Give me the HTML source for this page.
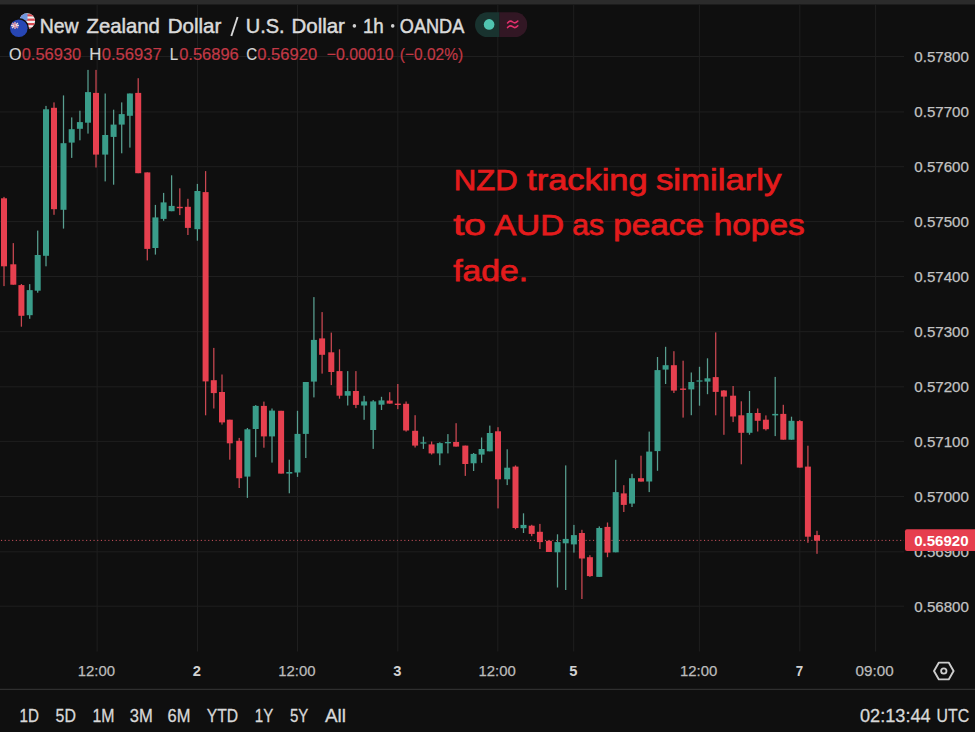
<!DOCTYPE html>
<html><head><meta charset="utf-8">
<style>html,body{margin:0;padding:0;background:#0f0f0f;overflow:hidden}svg{display:block;font-family:"Liberation Sans",sans-serif}text{white-space:pre}</style></head><body>
<svg width="975" height="732" viewBox="0 0 975 732">
<rect x="0" y="0" width="975" height="732" fill="#0f0f0f"/>
<rect x="0" y="0" width="975" height="4.5" fill="#2b2b2b"/>
<g stroke="#1f1f1f" stroke-width="1">
<line x1="0" y1="56.5" x2="904" y2="56.5"/>
<line x1="0" y1="111.9" x2="904" y2="111.9"/>
<line x1="0" y1="166.7" x2="904" y2="166.7"/>
<line x1="0" y1="221.6" x2="904" y2="221.6"/>
<line x1="0" y1="276.5" x2="904" y2="276.5"/>
<line x1="0" y1="331.7" x2="904" y2="331.7"/>
<line x1="0" y1="386.8" x2="904" y2="386.8"/>
<line x1="0" y1="441.4" x2="904" y2="441.4"/>
<line x1="0" y1="496.5" x2="904" y2="496.5"/>
<line x1="0" y1="551.8" x2="904" y2="551.8"/>
<line x1="0" y1="606.2" x2="904" y2="606.2"/>
<line x1="97.1" y1="4.5" x2="97.1" y2="651.5"/>
<line x1="197.5" y1="4.5" x2="197.5" y2="651.5"/>
<line x1="297.5" y1="4.5" x2="297.5" y2="651.5"/>
<line x1="397.8" y1="4.5" x2="397.8" y2="651.5"/>
<line x1="497.8" y1="4.5" x2="497.8" y2="651.5"/>
<line x1="573.7" y1="4.5" x2="573.7" y2="651.5"/>
<line x1="699.4" y1="4.5" x2="699.4" y2="651.5"/>
<line x1="799.8" y1="4.5" x2="799.8" y2="651.5"/>
<line x1="875.6" y1="4.5" x2="875.6" y2="651.5"/>
</g>
<line x1="0" y1="689.3" x2="975" y2="689.3" stroke="#2f2f2f" stroke-width="1.3"/>
<line x1="1" y1="540.4" x2="904" y2="540.4" stroke="#d25560" stroke-width="1" stroke-dasharray="1.1 2.6"/>
<rect x="3.38" y="196.9" width="1.25" height="89.2" fill="#cb4852"/>
<rect x="1.00" y="198.3" width="6.0" height="68.0" fill="#e6404f"/>
<rect x="12.68" y="243.1" width="1.25" height="41.6" fill="#cb4852"/>
<rect x="10.30" y="264.3" width="6.0" height="20.4" fill="#e6404f"/>
<rect x="20.78" y="284.0" width="1.25" height="42.7" fill="#cb4852"/>
<rect x="18.40" y="285.1" width="6.0" height="30.7" fill="#e6404f"/>
<rect x="29.08" y="284.1" width="1.25" height="34.7" fill="#589f90"/>
<rect x="26.70" y="290.1" width="6.0" height="25.1" fill="#3a9d8a"/>
<rect x="37.08" y="230.6" width="1.25" height="62.1" fill="#589f90"/>
<rect x="34.70" y="255.0" width="6.0" height="35.7" fill="#3a9d8a"/>
<rect x="45.38" y="105.9" width="1.25" height="160.4" fill="#589f90"/>
<rect x="43.00" y="109.3" width="6.0" height="146.5" fill="#3a9d8a"/>
<rect x="53.38" y="102.4" width="1.25" height="112.4" fill="#cb4852"/>
<rect x="51.00" y="107.8" width="6.0" height="101.4" fill="#e6404f"/>
<rect x="62.88" y="95.4" width="1.25" height="133.2" fill="#589f90"/>
<rect x="60.50" y="143.2" width="6.0" height="66.6" fill="#3a9d8a"/>
<rect x="71.08" y="117.4" width="1.25" height="40.5" fill="#589f90"/>
<rect x="68.70" y="129.2" width="6.0" height="13.4" fill="#3a9d8a"/>
<rect x="79.28" y="110.7" width="1.25" height="29.6" fill="#589f90"/>
<rect x="76.90" y="122.1" width="6.0" height="6.7" fill="#3a9d8a"/>
<rect x="87.38" y="69.9" width="1.25" height="63.7" fill="#589f90"/>
<rect x="85.00" y="92.1" width="6.0" height="30.6" fill="#3a9d8a"/>
<rect x="95.38" y="69.9" width="1.25" height="97.6" fill="#cb4852"/>
<rect x="93.00" y="92.9" width="6.0" height="61.7" fill="#e6404f"/>
<rect x="104.58" y="93.5" width="1.25" height="87.9" fill="#589f90"/>
<rect x="102.20" y="135.0" width="6.0" height="19.6" fill="#3a9d8a"/>
<rect x="112.98" y="109.7" width="1.25" height="75.0" fill="#589f90"/>
<rect x="110.60" y="124.6" width="6.0" height="12.3" fill="#3a9d8a"/>
<rect x="121.08" y="102.4" width="1.25" height="50.9" fill="#589f90"/>
<rect x="118.70" y="114.1" width="6.0" height="10.5" fill="#3a9d8a"/>
<rect x="129.28" y="93.5" width="1.25" height="54.1" fill="#589f90"/>
<rect x="126.90" y="93.5" width="6.0" height="22.3" fill="#3a9d8a"/>
<rect x="137.58" y="78.2" width="1.25" height="95.0" fill="#cb4852"/>
<rect x="135.20" y="92.9" width="6.0" height="80.3" fill="#e6404f"/>
<rect x="146.68" y="172.4" width="1.25" height="88.0" fill="#cb4852"/>
<rect x="144.30" y="172.4" width="6.0" height="76.5" fill="#e6404f"/>
<rect x="154.78" y="204.9" width="1.25" height="49.7" fill="#589f90"/>
<rect x="152.40" y="217.4" width="6.0" height="30.6" fill="#3a9d8a"/>
<rect x="162.98" y="192.9" width="1.25" height="27.9" fill="#589f90"/>
<rect x="160.60" y="202.4" width="6.0" height="16.5" fill="#3a9d8a"/>
<rect x="170.98" y="175.3" width="1.25" height="35.9" fill="#589f90"/>
<rect x="168.60" y="205.9" width="6.0" height="5.3" fill="#3a9d8a"/>
<rect x="179.18" y="188.3" width="1.25" height="26.8" fill="#cb4852"/>
<rect x="176.80" y="206.8" width="6.0" height="1.4" fill="#e6404f"/>
<rect x="187.28" y="198.8" width="1.25" height="36.2" fill="#cb4852"/>
<rect x="184.90" y="206.8" width="6.0" height="21.1" fill="#e6404f"/>
<rect x="196.78" y="183.9" width="1.25" height="56.8" fill="#589f90"/>
<rect x="194.40" y="191.0" width="6.0" height="38.2" fill="#3a9d8a"/>
<rect x="204.98" y="171.1" width="1.25" height="244.2" fill="#cb4852"/>
<rect x="202.60" y="192.1" width="6.0" height="189.3" fill="#e6404f"/>
<rect x="213.18" y="347.9" width="1.25" height="60.6" fill="#cb4852"/>
<rect x="210.80" y="380.2" width="6.0" height="12.9" fill="#e6404f"/>
<rect x="221.38" y="374.5" width="1.25" height="50.1" fill="#cb4852"/>
<rect x="219.00" y="392.0" width="6.0" height="30.4" fill="#e6404f"/>
<rect x="229.18" y="419.7" width="1.25" height="40.0" fill="#cb4852"/>
<rect x="226.80" y="419.7" width="6.0" height="23.6" fill="#e6404f"/>
<rect x="238.58" y="437.9" width="1.25" height="50.1" fill="#cb4852"/>
<rect x="236.20" y="440.8" width="6.0" height="37.4" fill="#e6404f"/>
<rect x="246.78" y="428.0" width="1.25" height="69.9" fill="#589f90"/>
<rect x="244.40" y="429.3" width="6.0" height="47.3" fill="#3a9d8a"/>
<rect x="255.08" y="405.1" width="1.25" height="52.1" fill="#589f90"/>
<rect x="252.70" y="405.9" width="6.0" height="23.1" fill="#3a9d8a"/>
<rect x="263.28" y="401.6" width="1.25" height="46.1" fill="#cb4852"/>
<rect x="260.90" y="405.9" width="6.0" height="30.5" fill="#e6404f"/>
<rect x="271.38" y="408.5" width="1.25" height="54.1" fill="#589f90"/>
<rect x="269.00" y="410.6" width="6.0" height="25.8" fill="#3a9d8a"/>
<rect x="280.48" y="410.8" width="1.25" height="62.8" fill="#cb4852"/>
<rect x="278.10" y="410.8" width="6.0" height="62.8" fill="#e6404f"/>
<rect x="288.68" y="459.7" width="1.25" height="33.6" fill="#589f90"/>
<rect x="286.30" y="472.0" width="6.0" height="1.6" fill="#3a9d8a"/>
<rect x="296.88" y="410.8" width="1.25" height="66.1" fill="#589f90"/>
<rect x="294.50" y="433.9" width="6.0" height="38.6" fill="#3a9d8a"/>
<rect x="305.18" y="382.0" width="1.25" height="76.0" fill="#589f90"/>
<rect x="302.80" y="382.0" width="6.0" height="51.9" fill="#3a9d8a"/>
<rect x="313.28" y="297.1" width="1.25" height="100.3" fill="#589f90"/>
<rect x="310.90" y="339.9" width="6.0" height="41.7" fill="#3a9d8a"/>
<rect x="321.48" y="312.1" width="1.25" height="61.5" fill="#cb4852"/>
<rect x="319.10" y="338.4" width="6.0" height="16.4" fill="#e6404f"/>
<rect x="330.68" y="332.6" width="1.25" height="52.5" fill="#cb4852"/>
<rect x="328.30" y="352.3" width="6.0" height="19.7" fill="#e6404f"/>
<rect x="338.88" y="349.3" width="1.25" height="49.4" fill="#cb4852"/>
<rect x="336.50" y="371.1" width="6.0" height="24.6" fill="#e6404f"/>
<rect x="347.08" y="371.1" width="1.25" height="34.4" fill="#589f90"/>
<rect x="344.70" y="391.1" width="6.0" height="4.6" fill="#3a9d8a"/>
<rect x="355.28" y="371.1" width="1.25" height="37.0" fill="#cb4852"/>
<rect x="352.90" y="391.0" width="6.0" height="13.9" fill="#e6404f"/>
<rect x="363.48" y="395.8" width="1.25" height="24.0" fill="#589f90"/>
<rect x="361.10" y="401.4" width="6.0" height="4.1" fill="#3a9d8a"/>
<rect x="372.58" y="400.1" width="1.25" height="48.8" fill="#589f90"/>
<rect x="370.20" y="401.4" width="6.0" height="28.6" fill="#3a9d8a"/>
<rect x="380.88" y="396.8" width="1.25" height="13.2" fill="#589f90"/>
<rect x="378.50" y="400.4" width="6.0" height="4.3" fill="#3a9d8a"/>
<rect x="389.08" y="392.2" width="1.25" height="11.4" fill="#cb4852"/>
<rect x="386.70" y="400.6" width="6.0" height="3.0" fill="#e6404f"/>
<rect x="397.18" y="384.0" width="1.25" height="25.2" fill="#cb4852"/>
<rect x="394.80" y="403.6" width="6.0" height="1.4" fill="#e6404f"/>
<rect x="405.48" y="401.5" width="1.25" height="30.1" fill="#cb4852"/>
<rect x="403.10" y="403.8" width="6.0" height="26.7" fill="#e6404f"/>
<rect x="414.48" y="415.2" width="1.25" height="32.3" fill="#cb4852"/>
<rect x="412.10" y="430.8" width="6.0" height="14.8" fill="#e6404f"/>
<rect x="422.78" y="436.6" width="1.25" height="12.3" fill="#589f90"/>
<rect x="420.40" y="442.3" width="6.0" height="1.3" fill="#3a9d8a"/>
<rect x="430.98" y="441.5" width="1.25" height="13.1" fill="#cb4852"/>
<rect x="428.60" y="444.4" width="6.0" height="9.0" fill="#e6404f"/>
<rect x="439.18" y="442.3" width="1.25" height="22.9" fill="#589f90"/>
<rect x="436.80" y="443.1" width="6.0" height="10.3" fill="#3a9d8a"/>
<rect x="447.28" y="434.1" width="1.25" height="19.3" fill="#589f90"/>
<rect x="444.90" y="442.0" width="6.0" height="1.3" fill="#3a9d8a"/>
<rect x="455.48" y="423.2" width="1.25" height="23.4" fill="#cb4852"/>
<rect x="453.10" y="442.0" width="6.0" height="4.6" fill="#e6404f"/>
<rect x="464.68" y="445.6" width="1.25" height="30.3" fill="#cb4852"/>
<rect x="462.30" y="445.6" width="6.0" height="18.4" fill="#e6404f"/>
<rect x="472.98" y="453.0" width="1.25" height="18.0" fill="#589f90"/>
<rect x="470.60" y="453.9" width="6.0" height="9.4" fill="#3a9d8a"/>
<rect x="480.98" y="437.5" width="1.25" height="25.3" fill="#589f90"/>
<rect x="478.60" y="449.0" width="6.0" height="5.6" fill="#3a9d8a"/>
<rect x="489.18" y="425.6" width="1.25" height="25.7" fill="#589f90"/>
<rect x="486.80" y="433.0" width="6.0" height="18.3" fill="#3a9d8a"/>
<rect x="497.38" y="427.2" width="1.25" height="81.2" fill="#cb4852"/>
<rect x="495.00" y="431.3" width="6.0" height="48.0" fill="#e6404f"/>
<rect x="506.58" y="449.3" width="1.25" height="35.8" fill="#589f90"/>
<rect x="504.20" y="467.7" width="6.0" height="11.6" fill="#3a9d8a"/>
<rect x="514.88" y="465.4" width="1.25" height="63.9" fill="#cb4852"/>
<rect x="512.50" y="466.6" width="6.0" height="61.4" fill="#e6404f"/>
<rect x="522.88" y="513.3" width="1.25" height="19.7" fill="#589f90"/>
<rect x="520.50" y="524.9" width="6.0" height="3.3" fill="#3a9d8a"/>
<rect x="531.08" y="524.8" width="1.25" height="11.4" fill="#cb4852"/>
<rect x="528.70" y="525.7" width="6.0" height="8.2" fill="#e6404f"/>
<rect x="539.28" y="523.9" width="1.25" height="25.1" fill="#cb4852"/>
<rect x="536.90" y="531.8" width="6.0" height="10.3" fill="#e6404f"/>
<rect x="548.28" y="540.0" width="1.25" height="12.0" fill="#cb4852"/>
<rect x="545.90" y="540.8" width="6.0" height="11.2" fill="#e6404f"/>
<rect x="556.88" y="534.3" width="1.25" height="53.2" fill="#589f90"/>
<rect x="554.50" y="542.1" width="6.0" height="10.2" fill="#3a9d8a"/>
<rect x="565.08" y="465.4" width="1.25" height="124.6" fill="#589f90"/>
<rect x="562.70" y="538.9" width="6.0" height="4.4" fill="#3a9d8a"/>
<rect x="573.28" y="524.9" width="1.25" height="27.7" fill="#589f90"/>
<rect x="570.90" y="535.1" width="6.0" height="9.3" fill="#3a9d8a"/>
<rect x="581.28" y="529.8" width="1.25" height="69.2" fill="#cb4852"/>
<rect x="578.90" y="533.0" width="6.0" height="25.5" fill="#e6404f"/>
<rect x="589.28" y="555.2" width="1.25" height="21.7" fill="#cb4852"/>
<rect x="586.90" y="557.2" width="6.0" height="18.9" fill="#e6404f"/>
<rect x="598.68" y="526.4" width="1.25" height="50.5" fill="#589f90"/>
<rect x="596.30" y="528.0" width="6.0" height="48.9" fill="#3a9d8a"/>
<rect x="606.88" y="522.5" width="1.25" height="34.7" fill="#cb4852"/>
<rect x="604.50" y="526.9" width="6.0" height="25.7" fill="#e6404f"/>
<rect x="615.08" y="459.8" width="1.25" height="92.5" fill="#589f90"/>
<rect x="612.70" y="492.1" width="6.0" height="60.2" fill="#3a9d8a"/>
<rect x="623.18" y="485.2" width="1.25" height="26.8" fill="#cb4852"/>
<rect x="620.80" y="493.4" width="6.0" height="11.5" fill="#e6404f"/>
<rect x="631.38" y="473.8" width="1.25" height="33.2" fill="#589f90"/>
<rect x="629.00" y="478.2" width="6.0" height="25.4" fill="#3a9d8a"/>
<rect x="640.38" y="455.7" width="1.25" height="25.9" fill="#cb4852"/>
<rect x="638.00" y="478.2" width="6.0" height="3.4" fill="#e6404f"/>
<rect x="648.58" y="431.6" width="1.25" height="60.5" fill="#589f90"/>
<rect x="646.20" y="451.6" width="6.0" height="29.9" fill="#3a9d8a"/>
<rect x="656.88" y="357.0" width="1.25" height="113.8" fill="#589f90"/>
<rect x="654.50" y="370.1" width="6.0" height="81.0" fill="#3a9d8a"/>
<rect x="664.98" y="346.8" width="1.25" height="37.2" fill="#589f90"/>
<rect x="662.60" y="365.2" width="6.0" height="4.4" fill="#3a9d8a"/>
<rect x="673.28" y="351.2" width="1.25" height="41.8" fill="#cb4852"/>
<rect x="670.90" y="365.2" width="6.0" height="25.4" fill="#e6404f"/>
<rect x="682.48" y="360.7" width="1.25" height="56.9" fill="#cb4852"/>
<rect x="680.10" y="388.5" width="6.0" height="1.4" fill="#e6404f"/>
<rect x="690.68" y="372.5" width="1.25" height="42.7" fill="#589f90"/>
<rect x="688.30" y="382.0" width="6.0" height="7.4" fill="#3a9d8a"/>
<rect x="698.88" y="366.8" width="1.25" height="38.9" fill="#589f90"/>
<rect x="696.50" y="380.4" width="6.0" height="1.2" fill="#3a9d8a"/>
<rect x="706.88" y="358.3" width="1.25" height="35.9" fill="#589f90"/>
<rect x="704.50" y="378.3" width="6.0" height="3.3" fill="#3a9d8a"/>
<rect x="715.08" y="332.4" width="1.25" height="82.9" fill="#cb4852"/>
<rect x="712.70" y="377.1" width="6.0" height="14.8" fill="#e6404f"/>
<rect x="723.28" y="390.0" width="1.25" height="44.8" fill="#cb4852"/>
<rect x="720.90" y="390.5" width="6.0" height="6.1" fill="#e6404f"/>
<rect x="732.48" y="386.0" width="1.25" height="36.1" fill="#cb4852"/>
<rect x="730.10" y="395.7" width="6.0" height="20.8" fill="#e6404f"/>
<rect x="740.68" y="401.3" width="1.25" height="63.0" fill="#cb4852"/>
<rect x="738.30" y="415.3" width="6.0" height="17.5" fill="#e6404f"/>
<rect x="748.88" y="391.0" width="1.25" height="43.7" fill="#589f90"/>
<rect x="746.50" y="413.0" width="6.0" height="19.8" fill="#3a9d8a"/>
<rect x="757.08" y="408.5" width="1.25" height="23.0" fill="#cb4852"/>
<rect x="754.70" y="413.0" width="6.0" height="7.8" fill="#e6404f"/>
<rect x="765.28" y="415.4" width="1.25" height="15.1" fill="#cb4852"/>
<rect x="762.90" y="419.7" width="6.0" height="9.5" fill="#e6404f"/>
<rect x="774.58" y="376.9" width="1.25" height="59.2" fill="#589f90"/>
<rect x="772.20" y="413.9" width="6.0" height="1.5" fill="#3a9d8a"/>
<rect x="782.68" y="404.8" width="1.25" height="34.9" fill="#cb4852"/>
<rect x="780.30" y="413.9" width="6.0" height="25.8" fill="#e6404f"/>
<rect x="790.88" y="416.7" width="1.25" height="23.0" fill="#589f90"/>
<rect x="788.50" y="420.8" width="6.0" height="18.9" fill="#3a9d8a"/>
<rect x="799.18" y="420.0" width="1.25" height="47.6" fill="#cb4852"/>
<rect x="796.80" y="421.1" width="6.0" height="46.5" fill="#e6404f"/>
<rect x="807.28" y="445.7" width="1.25" height="97.1" fill="#cb4852"/>
<rect x="804.90" y="466.6" width="6.0" height="70.1" fill="#e6404f"/>
<rect x="816.38" y="530.8" width="1.25" height="23.0" fill="#cb4852"/>
<rect x="814.00" y="535.1" width="6.0" height="5.6" fill="#e6404f"/>
<text x="914.3" y="61.6" font-size="15" fill="#c2c2c2" font-weight="normal" textLength="54.6" lengthAdjust="spacingAndGlyphs" stroke="#c2c2c2" stroke-width="0.25">0.57800</text>
<text x="914.3" y="116.7" font-size="15" fill="#c2c2c2" font-weight="normal" textLength="54.6" lengthAdjust="spacingAndGlyphs" stroke="#c2c2c2" stroke-width="0.25">0.57700</text>
<text x="914.3" y="171.7" font-size="15" fill="#c2c2c2" font-weight="normal" textLength="54.6" lengthAdjust="spacingAndGlyphs" stroke="#c2c2c2" stroke-width="0.25">0.57600</text>
<text x="914.3" y="226.7" font-size="15" fill="#c2c2c2" font-weight="normal" textLength="54.6" lengthAdjust="spacingAndGlyphs" stroke="#c2c2c2" stroke-width="0.25">0.57500</text>
<text x="914.3" y="281.8" font-size="15" fill="#c2c2c2" font-weight="normal" textLength="54.6" lengthAdjust="spacingAndGlyphs" stroke="#c2c2c2" stroke-width="0.25">0.57400</text>
<text x="914.3" y="336.9" font-size="15" fill="#c2c2c2" font-weight="normal" textLength="54.6" lengthAdjust="spacingAndGlyphs" stroke="#c2c2c2" stroke-width="0.25">0.57300</text>
<text x="914.3" y="391.9" font-size="15" fill="#c2c2c2" font-weight="normal" textLength="54.6" lengthAdjust="spacingAndGlyphs" stroke="#c2c2c2" stroke-width="0.25">0.57200</text>
<text x="914.3" y="446.9" font-size="15" fill="#c2c2c2" font-weight="normal" textLength="54.6" lengthAdjust="spacingAndGlyphs" stroke="#c2c2c2" stroke-width="0.25">0.57100</text>
<text x="914.3" y="502.0" font-size="15" fill="#c2c2c2" font-weight="normal" textLength="54.6" lengthAdjust="spacingAndGlyphs" stroke="#c2c2c2" stroke-width="0.25">0.57000</text>
<text x="914.3" y="557.0" font-size="15" fill="#c2c2c2" font-weight="normal" textLength="54.6" lengthAdjust="spacingAndGlyphs" stroke="#c2c2c2" stroke-width="0.25">0.56900</text>
<text x="914.3" y="612.1" font-size="15" fill="#c2c2c2" font-weight="normal" textLength="54.6" lengthAdjust="spacingAndGlyphs" stroke="#c2c2c2" stroke-width="0.25">0.56800</text>
<path d="M907 529.3 H975 V551.1 H907 Q905 551.1 905 549.1 V531.3 Q905 529.3 907 529.3 Z" fill="#e63e4e"/>
<text x="914.2" y="546.2" font-size="15" fill="#ffffff" font-weight="bold" textLength="54.4" lengthAdjust="spacingAndGlyphs" >0.56920</text>
<text x="77.7" y="676.4" font-size="15" fill="#bcbcbc" font-weight="normal" textLength="37.3" lengthAdjust="spacingAndGlyphs" stroke="#bcbcbc" stroke-width="0.25">12:00</text>
<text x="192.7" y="676.4" font-size="15" fill="#d2d2d2" font-weight="bold" textLength="8.2" lengthAdjust="spacingAndGlyphs" >2</text>
<text x="278.2" y="676.4" font-size="15" fill="#bcbcbc" font-weight="normal" textLength="37.3" lengthAdjust="spacingAndGlyphs" stroke="#bcbcbc" stroke-width="0.25">12:00</text>
<text x="393.2" y="676.4" font-size="15" fill="#d2d2d2" font-weight="bold" textLength="8.2" lengthAdjust="spacingAndGlyphs" >3</text>
<text x="478.5" y="676.4" font-size="15" fill="#bcbcbc" font-weight="normal" textLength="37.3" lengthAdjust="spacingAndGlyphs" stroke="#bcbcbc" stroke-width="0.25">12:00</text>
<text x="569.2" y="676.4" font-size="15" fill="#d2d2d2" font-weight="bold" textLength="8.2" lengthAdjust="spacingAndGlyphs" >5</text>
<text x="680.0" y="676.4" font-size="15" fill="#bcbcbc" font-weight="normal" textLength="37.3" lengthAdjust="spacingAndGlyphs" stroke="#bcbcbc" stroke-width="0.25">12:00</text>
<text x="795.8" y="676.4" font-size="15" fill="#d2d2d2" font-weight="bold" textLength="7.4" lengthAdjust="spacingAndGlyphs" >7</text>
<text x="855.6" y="676.4" font-size="15" fill="#bcbcbc" font-weight="normal" textLength="38.0" lengthAdjust="spacingAndGlyphs" stroke="#bcbcbc" stroke-width="0.25">09:00</text>
<text x="19.6" y="721.8" font-size="18.2" fill="#d8d8d8" font-weight="normal" textLength="19.4" lengthAdjust="spacingAndGlyphs" stroke="#d8d8d8" stroke-width="0.3">1D</text>
<text x="55.6" y="721.8" font-size="18.2" fill="#d8d8d8" font-weight="normal" textLength="20.3" lengthAdjust="spacingAndGlyphs" stroke="#d8d8d8" stroke-width="0.3">5D</text>
<text x="92.4" y="721.8" font-size="18.2" fill="#d8d8d8" font-weight="normal" textLength="22.0" lengthAdjust="spacingAndGlyphs" stroke="#d8d8d8" stroke-width="0.3">1M</text>
<text x="129.8" y="721.8" font-size="18.2" fill="#d8d8d8" font-weight="normal" textLength="23.0" lengthAdjust="spacingAndGlyphs" stroke="#d8d8d8" stroke-width="0.3">3M</text>
<text x="167.6" y="721.8" font-size="18.2" fill="#d8d8d8" font-weight="normal" textLength="22.9" lengthAdjust="spacingAndGlyphs" stroke="#d8d8d8" stroke-width="0.3">6M</text>
<text x="206.8" y="721.8" font-size="18.2" fill="#d8d8d8" font-weight="normal" textLength="31.4" lengthAdjust="spacingAndGlyphs" stroke="#d8d8d8" stroke-width="0.3">YTD</text>
<text x="254.8" y="721.8" font-size="18.2" fill="#d8d8d8" font-weight="normal" textLength="18.5" lengthAdjust="spacingAndGlyphs" stroke="#d8d8d8" stroke-width="0.3">1Y</text>
<text x="289.9" y="721.8" font-size="18.2" fill="#d8d8d8" font-weight="normal" textLength="18.4" lengthAdjust="spacingAndGlyphs" stroke="#d8d8d8" stroke-width="0.3">5Y</text>
<text x="325.0" y="721.8" font-size="18.2" fill="#d8d8d8" font-weight="normal" textLength="21.0" lengthAdjust="spacingAndGlyphs" stroke="#d8d8d8" stroke-width="0.3">All</text>
<text x="860.0" y="721.8" font-size="18.2" fill="#d8d8d8" font-weight="normal" textLength="70.6" lengthAdjust="spacingAndGlyphs" stroke="#d8d8d8" stroke-width="0.3">02:13:44</text>
<text x="936.6" y="721.8" font-size="18.2" fill="#d8d8d8" font-weight="normal" textLength="32.6" lengthAdjust="spacingAndGlyphs" stroke="#d8d8d8" stroke-width="0.3">UTC</text>
<text x="39.7" y="32.6" font-size="20.8" fill="#dadada" font-weight="normal" textLength="38.9" lengthAdjust="spacingAndGlyphs" stroke="#dadada" stroke-width="0.5">New</text>
<text x="86.5" y="32.6" font-size="20.8" fill="#dadada" font-weight="normal" textLength="73.3" lengthAdjust="spacingAndGlyphs" stroke="#dadada" stroke-width="0.5">Zealand</text>
<text x="167.7" y="32.6" font-size="20.8" fill="#dadada" font-weight="normal" textLength="53.7" lengthAdjust="spacingAndGlyphs" stroke="#dadada" stroke-width="0.5">Dollar</text>
<line x1="231.3" y1="36" x2="237.6" y2="17" stroke="#d8d8d8" stroke-width="1.9"/>
<text x="245.7" y="32.6" font-size="20.8" fill="#dadada" font-weight="normal" textLength="38.9" lengthAdjust="spacingAndGlyphs" stroke="#dadada" stroke-width="0.5">U.S.</text>
<text x="291.5" y="32.6" font-size="20.8" fill="#dadada" font-weight="normal" textLength="53.4" lengthAdjust="spacingAndGlyphs" stroke="#dadada" stroke-width="0.5">Dollar</text>
<circle cx="354.4" cy="25.9" r="1.8" fill="#d0d0d0"/>
<text x="362.9" y="32.6" font-size="20.8" fill="#dadada" font-weight="normal" textLength="20.9" lengthAdjust="spacingAndGlyphs" stroke="#dadada" stroke-width="0.5">1h</text>
<circle cx="392.7" cy="25.9" r="1.8" fill="#d0d0d0"/>
<text x="399.8" y="32.6" font-size="20.8" fill="#dadada" font-weight="normal" textLength="64.5" lengthAdjust="spacingAndGlyphs" stroke="#dadada" stroke-width="0.5">OANDA</text>
<text x="8.9" y="59.6" font-size="17" fill="#d6d6d6" font-weight="normal" textLength="12.5" lengthAdjust="spacingAndGlyphs" stroke="#d6d6d6" stroke-width="0.2">O</text>
<text x="21.7" y="59.6" font-size="17" fill="#c23946" font-weight="normal" textLength="59.5" lengthAdjust="spacingAndGlyphs" stroke="#c23946" stroke-width="0.2">0.56930</text>
<text x="89.3" y="59.6" font-size="17" fill="#d6d6d6" font-weight="normal" textLength="12.1" lengthAdjust="spacingAndGlyphs" stroke="#d6d6d6" stroke-width="0.2">H</text>
<text x="101.7" y="59.6" font-size="17" fill="#c23946" font-weight="normal" textLength="60.0" lengthAdjust="spacingAndGlyphs" stroke="#c23946" stroke-width="0.2">0.56937</text>
<text x="169.8" y="59.6" font-size="17" fill="#d6d6d6" font-weight="normal" textLength="8.4" lengthAdjust="spacingAndGlyphs" stroke="#d6d6d6" stroke-width="0.2">L</text>
<text x="179.2" y="59.6" font-size="17" fill="#c23946" font-weight="normal" textLength="59.6" lengthAdjust="spacingAndGlyphs" stroke="#c23946" stroke-width="0.2">0.56896</text>
<text x="246.2" y="59.6" font-size="17" fill="#d6d6d6" font-weight="normal" textLength="10.9" lengthAdjust="spacingAndGlyphs" stroke="#d6d6d6" stroke-width="0.2">C</text>
<text x="257.3" y="59.6" font-size="17" fill="#c23946" font-weight="normal" textLength="59.8" lengthAdjust="spacingAndGlyphs" stroke="#c23946" stroke-width="0.2">0.56920</text>
<text x="326.7" y="59.6" font-size="17" fill="#c23946" font-weight="normal" textLength="66.8" lengthAdjust="spacingAndGlyphs" stroke="#c23946" stroke-width="0.2">−0.00010</text>
<text x="399.8" y="59.6" font-size="17" fill="#c23946" font-weight="normal" textLength="63.3" lengthAdjust="spacingAndGlyphs" stroke="#c23946" stroke-width="0.2">(−0.02%)</text>
<text x="453.8" y="190.3" font-size="30.4" fill="#e31b1c" font-weight="normal" textLength="64.0" lengthAdjust="spacingAndGlyphs" stroke="#e31b1c" stroke-width="0.75">NZD</text>
<text x="527.1" y="190.3" font-size="30.4" fill="#e31b1c" font-weight="normal" textLength="120.6" lengthAdjust="spacingAndGlyphs" stroke="#e31b1c" stroke-width="0.75">tracking</text>
<text x="655.9" y="190.3" font-size="30.4" fill="#e31b1c" font-weight="normal" textLength="125.5" lengthAdjust="spacingAndGlyphs" stroke="#e31b1c" stroke-width="0.75">similarly</text>
<text x="453.2" y="235.4" font-size="30.4" fill="#e31b1c" font-weight="normal" textLength="32.8" lengthAdjust="spacingAndGlyphs" stroke="#e31b1c" stroke-width="0.75">to</text>
<text x="494.3" y="235.4" font-size="30.4" fill="#e31b1c" font-weight="normal" textLength="69.7" lengthAdjust="spacingAndGlyphs" stroke="#e31b1c" stroke-width="0.75">AUD</text>
<text x="572.2" y="235.4" font-size="30.4" fill="#e31b1c" font-weight="normal" textLength="31.8" lengthAdjust="spacingAndGlyphs" stroke="#e31b1c" stroke-width="0.75">as</text>
<text x="613.2" y="235.4" font-size="30.4" fill="#e31b1c" font-weight="normal" textLength="90.9" lengthAdjust="spacingAndGlyphs" stroke="#e31b1c" stroke-width="0.75">peace</text>
<text x="713.8" y="235.4" font-size="30.4" fill="#e31b1c" font-weight="normal" textLength="90.8" lengthAdjust="spacingAndGlyphs" stroke="#e31b1c" stroke-width="0.75">hopes</text>
<text x="453.2" y="280.5" font-size="30.4" fill="#e31b1c" font-weight="normal" textLength="74.8" lengthAdjust="spacingAndGlyphs" stroke="#e31b1c" stroke-width="0.75">fade.</text>
<defs><clipPath id="us"><circle cx="27.2" cy="21.1" r="7.9"/></clipPath><clipPath id="nz"><circle cx="18.8" cy="28.3" r="8.8"/></clipPath><clipPath id="pill"><rect x="475" y="12.3" width="52.3" height="24.7" rx="12.35"/></clipPath></defs>
<g clip-path="url(#us)">
<rect x="18" y="12" width="18" height="18" fill="#f1f1f1"/>
<g fill="#d8484f"><rect x="18" y="14.2" width="18" height="2.2"/><rect x="18" y="18.6" width="18" height="2.2"/><rect x="18" y="23" width="18" height="2.2"/><rect x="18" y="27.4" width="18" height="2.2"/></g>
<rect x="18" y="12" width="9.5" height="8.6" fill="#6f96de"/>
</g>
<circle cx="18.8" cy="28.3" r="10.2" fill="#0f0f0f"/>
<circle cx="18.8" cy="28.3" r="8.8" fill="#2746b4"/>
<g clip-path="url(#nz)"><path d="M12 23 L18 28 M18 23 L12 28 M15 22 V29 M11 25.5 H19" stroke="#e9d6dc" stroke-width="1.3" fill="none"/><path d="M12 23 L18 28 M15 22 V29" stroke="#d8506a" stroke-width="0.6"/></g>
<g clip-path="url(#pill)"><rect x="475" y="12" width="24.5" height="26" fill="#19332f"/><rect x="499.5" y="12" width="28" height="26" fill="#321724"/></g>
<circle cx="489.1" cy="24.4" r="5.3" fill="#50c4b0"/>
<path d="M507.6 22.9 q2.5 -3 5.1 -0.9 t5.1 -0.9 M507.6 27.6 q2.5 -3 5.1 -0.9 t5.1 -0.9" stroke="#e2306c" stroke-width="1.6" fill="none" stroke-linecap="round"/>
<path d="M934 671 L938.9 662.6 H948.7 L953.6 671 L948.7 679.4 H938.9 Z" fill="none" stroke="#cdcdcd" stroke-width="1.9" stroke-linejoin="round"/>
<circle cx="943.8" cy="671" r="2.7" fill="none" stroke="#cdcdcd" stroke-width="1.8"/>
</svg>
</body></html>
